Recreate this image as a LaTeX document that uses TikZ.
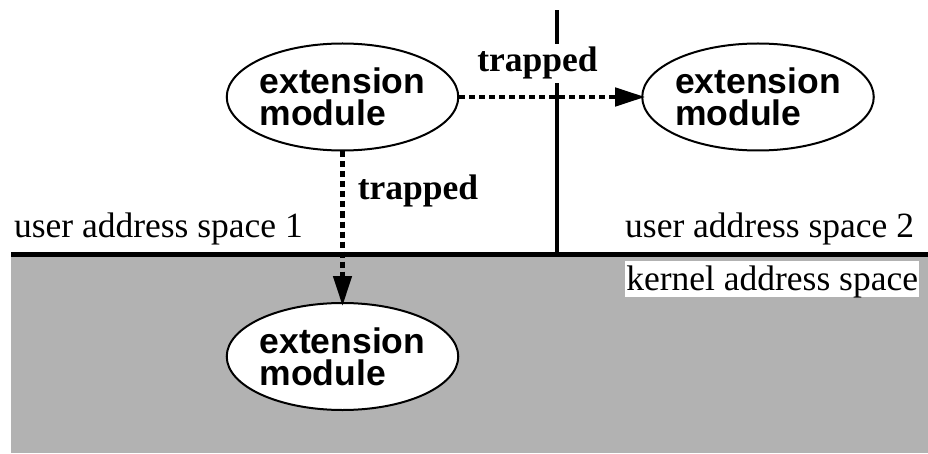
\documentclass[tikz,border=0pt]{standalone}
\usepackage{fontspec}
\setmainfont{Liberation Serif}
\setsansfont{Liberation Sans}
\usetikzlibrary{arrows.meta,shapes.geometric}

\begin{document}
\begin{tikzpicture}[x=1pt, y=1pt, line width=2pt,
      every node/.append style={font=\fontsize{35.5}{32}\selectfont},
      trap/.style={-{Triangle[length=30pt,width=18pt]}, line width=4.5pt,
        dash pattern=on 6pt off 4pt, shorten >=-4pt}]
    \tikzstyle{module} = [ellipse, draw, fill=white, inner ysep=0pt, inner xsep=-1pt,
      align=left, minimum height=107pt, font=\fontsize{35.5}{32}\selectfont\sffamily\bfseries]
    \tikzstyle{trapword} = [font=\fontsize{35.5}{40}\selectfont\bfseries, anchor=base]
    \tikzstyle{spacename} = [font=\fontsize{35.5}{40}\selectfont, inner sep=0pt]
    \useasboundingbox (0,0) rectangle (928,453);
    % kernel side and the walls
    \fill[black!30] (11,0) rectangle (928,197);
    \draw[line width=5pt] (11,199) -- (928,199);
    \draw[line width=4.5pt] (557,199) -- (557,443);
    \node (user1) [spacename, anchor=base west] at (13,216) {user address space 1};
    \node (user2) [spacename, anchor=base east] at (915,216) {user address space 2};
    \node (kernel) [spacename, anchor=base east, fill=white, inner xsep=1pt,
      text height=29pt, text depth=7pt] at (920,163) {kernel address space};
    % modules
    \node (mod1) [module] at (342.5,356) {extension\\module};
    \node (mod2) [module] at (758,356) {extension\\module};
    \node (mod3) [module] at (342.5,96.5) {extension\\module};
    \draw[trap] (mod1.east) -- (mod2.west);
    \draw[trap] (mod1.south) -- (mod3.north);
    \node (trap1) [trapword, fill=white, inner sep=3pt] at (537.5,381) {trapped};
    \node (trap2) [trapword] at (418,253) {trapped};
\end{tikzpicture}
\end{document}
